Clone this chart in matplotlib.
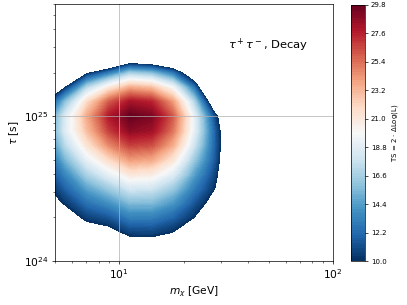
import numpy as np
import matplotlib
matplotlib.use("Agg")
import matplotlib.pyplot as plt

# grid of the likelihood scan
mass = [4.47, 5.62, 7.08, 8.91, 11.22, 14.13, 17.78, 22.39, 28.18, 35.48]   # GeV
tau = [1.00e24, 1.26e24, 1.58e24, 2.00e24, 2.51e24, 3.16e24, 3.98e24, 5.01e24,
       6.31e24, 7.94e24, 1.00e25, 1.26e25, 1.58e25, 2.00e25, 2.51e25, 3.16e25]  # s

# TS values, one row per tau, one column per mass
ts_1p00e24 = [5.3, 4.0, 4.8, 4.3, 5.9, 6.2, 5.9, 5.7, 4.0, 4.0]
ts_1p26e24 = [6.1, 5.6, 6.7, 6.7, 8.3, 8.5, 8.0, 7.1, 5.0, 4.0]
ts_1p58e24 = [6.9, 7.2, 8.6, 9.1, 10.7, 10.8, 10.0, 8.6, 5.5, 4.0]
ts_2p00e24 = [7.8, 8.7, 10.6, 11.4, 13.1, 13.1, 12.0, 10.0, 6.0, 4.0]
ts_2p51e24 = [8.6, 10.3, 12.5, 13.8, 15.5, 15.5, 14.1, 11.4, 8.6, 4.0]
ts_3p16e24 = [9.4, 11.9, 14.5, 16.2, 18.1, 17.9, 16.2, 12.9, 9.9, 4.0]
ts_3p98e24 = [10.3, 13.5, 16.8, 19.0, 21.1, 20.8, 18.7, 14.5, 10.6, 4.0]
ts_5p01e24 = [11.1, 15.4, 19.1, 21.8, 24.1, 23.7, 21.2, 16.2, 11.3, 4.0]
ts_6p31e24 = [12.1, 17.3, 21.3, 24.6, 26.7, 26.3, 23.5, 17.9, 11.6, 4.0]
ts_7p94e24 = [12.9, 18.7, 23.0, 26.7, 28.8, 28.3, 25.2, 19.0, 11.5, 4.0]
ts_1p00e25 = [12.4, 18.6, 23.7, 27.8, 29.8, 29.2, 26.0, 19.0, 10.6, 4.0]
ts_1p26e25 = [9.6, 15.9, 21.8, 25.9, 28.1, 27.5, 24.1, 16.9, 6.1, 0.0]
ts_1p58e25 = [4.5, 10.3, 17.1, 20.9, 23.6, 22.9, 19.7, 12.6, 0.5, 0.0]
ts_2p00e25 = [0.0, 1.9, 9.6, 12.7, 16.3, 15.5, 12.6, 6.2, 0.0, 0.0]
ts_2p51e25 = [0.0, 0.0, 0.0, 1.4, 6.1, 5.2, 3.0, 0.0, 0.0, 0.0]
ts_3p16e25 = [0.0, 0.0, 0.0, 0.0, 0.0, 0.0, 0.0, 0.0, 0.0, 0.0]

TS = np.array([ts_1p00e24, ts_1p26e24, ts_1p58e24, ts_2p00e24, ts_2p51e24,
               ts_3p16e24, ts_3p98e24, ts_5p01e24, ts_6p31e24, ts_7p94e24,
               ts_1p00e25, ts_1p26e25, ts_1p58e25, ts_2p00e25, ts_2p51e25,
               ts_3p16e25])

ts_min, ts_max = 10.0, 29.8

fig = plt.figure(figsize=(6.4, 4.8), dpi=63.6)
ax = fig.add_axes([0.135, 0.144, 0.683, 0.843])
cax = fig.add_axes([0.862, 0.144, 0.034, 0.840])

M, T = np.meshgrid(mass, tau)
cf = ax.contourf(M, T, TS, levels=np.linspace(ts_min, ts_max, 100), cmap="RdBu_r")
ax.set_xscale("log")
ax.set_yscale("log")
ax.set_xlim(5, 100)
ax.set_ylim(1e24, 6e25)
ax.grid(True)
ax.tick_params(labelsize=12)
ax.set_xlabel(r"$m_\chi$ [GeV]", fontsize=12)
ax.set_ylabel(r"$\tau$ [s]", fontsize=12)
ax.text(0.766, 0.84, r"$\tau^+\tau^-$, Decay", transform=ax.transAxes,
        ha="center", va="center", fontsize=13)

cb = fig.colorbar(cf, cax=cax, ticks=np.linspace(ts_min, ts_max, 10), format="%.1f")
cb.ax.tick_params(labelsize=8)
cb.set_label(r"TS = 2 $\cdot$ $\Delta$Log(L)", fontsize=8)

fig.savefig("out.png", dpi=63.6)
